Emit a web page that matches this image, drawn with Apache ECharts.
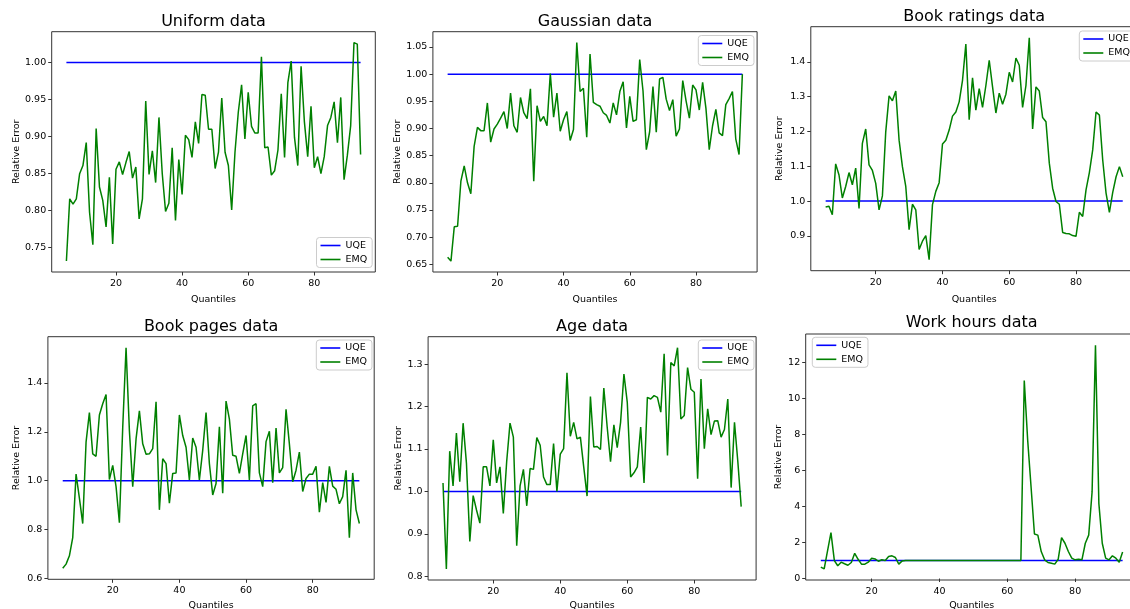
<!DOCTYPE html>
<html><head><meta charset="utf-8">
<script src="https://cdn.jsdelivr.net/npm/echarts@6/dist/echarts.min.js"></script>
<style>html,body{margin:0;padding:0;background:#fff}#c{width:1130px;height:609px}</style>
</head><body><div id="c"></div>
<script>
const quantiles = [5,6,7,8,9,10,11,12,13,14,15,16,17,18,19,20,21,22,23,24,25,26,27,28,29,30,31,32,33,34,35,36,37,38,39,40,41,42,43,44,45,46,47,48,49,50,51,52,53,54,55,56,57,58,59,60,61,62,63,64,65,66,67,68,69,70,71,72,73,74,75,76,77,78,79,80,81,82,83,84,85,86,87,88,89,90,91,92,93,94];
const uqeValue = 1.0;

const uniformEMQ = [0.732,0.816,0.809,0.816,0.850,0.861,0.892,0.798,0.754,0.911,
0.832,0.814,0.778,0.845,0.755,0.856,0.866,0.849,0.865,0.880,
0.844,0.859,0.789,0.816,0.948,0.849,0.881,0.838,0.926,0.850,
0.799,0.810,0.885,0.787,0.869,0.822,0.902,0.896,0.872,0.920,
0.891,0.957,0.956,0.910,0.910,0.857,0.879,0.952,0.879,0.861,
0.801,0.879,0.933,0.970,0.897,0.960,0.914,0.905,0.905,1.008,
0.885,0.886,0.848,0.854,0.882,0.958,0.872,0.973,1.002,0.899,
0.861,0.995,0.920,0.873,0.941,0.858,0.873,0.850,0.873,0.915,
0.926,0.947,0.892,0.953,0.842,0.875,0.915,1.027,1.025,0.876];

const gaussianEMQ = [0.663,0.656,0.719,0.720,0.803,0.831,0.800,0.780,0.867,0.902,
0.896,0.896,0.947,0.875,0.899,0.908,0.919,0.931,0.900,0.965,
0.905,0.893,0.957,0.929,0.918,0.973,0.803,0.942,0.913,0.922,
0.905,1.001,0.921,0.965,0.895,0.916,0.931,0.878,0.898,1.058,
0.968,0.974,0.884,1.037,0.948,0.944,0.941,0.929,0.924,0.910,
0.947,0.925,0.968,0.986,0.901,0.959,0.913,0.916,1.027,0.969,
0.861,0.894,0.977,0.893,0.991,0.994,0.954,0.933,0.953,0.886,
0.899,0.988,0.951,0.919,0.980,0.971,0.934,0.985,0.937,0.861,
0.905,0.935,0.892,0.887,0.944,0.955,0.968,0.881,0.852,1.000];

const ratingsEMQ = [0.983,0.985,0.961,1.107,1.075,1.009,1.042,1.082,1.047,1.095,
0.979,1.166,1.207,1.104,1.088,1.051,0.975,1.015,1.199,1.302,
1.288,1.316,1.175,1.099,1.042,0.918,0.991,0.975,0.861,0.885,
0.901,0.832,0.990,1.028,1.053,1.164,1.175,1.204,1.244,1.256,
1.285,1.347,1.451,1.234,1.354,1.261,1.323,1.269,1.332,1.404,
1.328,1.253,1.310,1.278,1.307,1.370,1.342,1.411,1.390,1.269,
1.332,1.469,1.207,1.328,1.316,1.240,1.228,1.109,1.037,0.999,
0.991,0.910,0.907,0.906,0.901,0.899,0.968,0.956,1.032,1.082,
1.147,1.256,1.247,1.118,1.023,0.968,1.025,1.070,1.099,1.070];

const pagesEMQ = [0.642,0.659,0.693,0.767,1.027,0.929,0.825,1.158,1.279,1.110,
1.100,1.269,1.315,1.353,1.005,1.063,0.976,0.828,1.218,1.544,
1.205,0.976,1.171,1.286,1.151,1.108,1.110,1.131,1.323,0.881,
1.090,1.070,0.908,1.030,1.032,1.269,1.185,1.137,1.003,1.175,
1.137,1.003,1.124,1.279,1.070,0.942,0.989,1.221,0.949,1.326,
1.252,1.104,1.100,1.030,1.110,1.185,1.003,1.306,1.315,1.032,
0.976,1.160,1.202,0.992,1.215,1.032,1.054,1.292,1.151,0.996,
1.043,1.117,0.956,1.009,1.027,1.027,1.059,0.871,0.992,0.911,
1.059,0.978,0.965,0.906,0.935,1.043,0.767,1.032,0.881,0.825];

const ageEMQ = [1.020,0.817,1.095,1.013,1.138,1.023,1.161,1.066,0.882,0.990,
0.956,0.925,1.058,1.058,1.013,1.122,1.020,1.058,0.948,1.070,
1.161,1.128,0.872,1.013,1.052,0.966,1.054,1.052,1.127,1.109,
1.034,1.016,1.016,1.113,1.000,1.088,1.101,1.280,1.130,1.163,
1.124,1.128,1.058,0.989,1.224,1.105,1.106,1.099,1.244,1.152,
1.070,1.157,1.103,1.163,1.277,1.210,1.034,1.044,1.058,1.152,
1.020,1.222,1.218,1.226,1.222,1.187,1.325,1.085,1.304,1.296,
1.339,1.171,1.179,1.292,1.241,1.234,1.030,1.265,1.101,1.195,
1.134,1.166,1.167,1.128,1.146,1.218,1.009,1.163,1.070,0.964];

const hoursEMQ = [0.63,0.54,1.55,2.55,1.00,0.71,0.91,0.82,0.74,0.89,
1.40,1.07,0.80,0.80,0.91,1.13,1.09,0.96,1.04,1.00,
1.22,1.26,1.17,0.80,0.98,1.00,1.00,1.00,1.00,1.00,
1.00,1.00,1.00,1.00,1.00,1.00,1.00,1.00,1.00,1.00,
1.00,1.00,1.00,1.00,1.00,1.00,1.00,1.00,1.00,1.00,
1.00,1.00,1.00,1.00,1.00,1.00,1.00,1.00,1.00,1.00,
11.0,7.7,5.1,2.47,2.41,1.50,1.04,0.89,0.85,0.80,
1.07,2.27,1.96,1.50,1.13,1.04,1.07,1.04,1.96,2.41,
4.81,12.96,4.16,1.96,1.13,1.04,1.26,1.13,0.91,1.47];

const xTicks = [20,40,60,80];
const uniformYTicks = [0.75,0.80,0.85,0.90,0.95,1.00];
const gaussianYTicks = [0.65,0.70,0.75,0.80,0.85,0.90,0.95,1.00,1.05];
const ratingsYTicks = [0.8,0.9,1.0,1.1,1.2,1.3,1.4];
const pagesYTicks = [0.6,0.8,1.0,1.2,1.4];
const ageYTicks = [0.8,0.9,1.0,1.1,1.2,1.3];
const hoursYTicks = [0,2,4,6,8,10,12];

const FONT = 'DejaVu Sans';
const BLUE = '#0000ff', GREEN = '#008000';

const panels = [
  {title:'Uniform data', emq:uniformEMQ, yTicks:uniformYTicks, dec:2,
   grid:{left:51.7, top:31.7, width:323.6, height:240.3}, titleTop:14, legend:{left:316.5, top:237.5}, yNameGap:30, xNameGap:23},
  {title:'Gaussian data', emq:gaussianEMQ, yTicks:gaussianYTicks, dec:2,
   grid:{left:432.9, top:31.7, width:324.2, height:240.3}, titleTop:14, legend:{left:698.3, top:35.5}, yNameGap:30, xNameGap:23},
  {title:'Book ratings data', emq:ratingsEMQ, yTicks:ratingsYTicks, dec:1,
   grid:{left:810.8, top:26.7, width:326.8, height:244}, titleTop:9, legend:{left:1079.3, top:31}, yNameGap:26, xNameGap:24},
  {title:'Book pages data', emq:pagesEMQ, yTicks:pagesYTicks, dec:1,
   grid:{left:47.9, top:336.7, width:326.3, height:242.6}, titleTop:319, legend:{left:316.3, top:340}, yNameGap:26, xNameGap:21},
  {title:'Age data', emq:ageEMQ, yTicks:ageYTicks, dec:1,
   grid:{left:428.1, top:336.7, width:328, height:243.3}, titleTop:319, legend:{left:698.3, top:340}, yNameGap:25, xNameGap:21},
  {title:'Work hours data', emq:hoursEMQ, yTicks:hoursYTicks, dec:0,
   grid:{left:805.7, top:334, width:332, height:246}, titleTop:315, legend:{left:812.3, top:337.3}, yNameGap:22, xNameGap:21}
];

function limits(values) {
  const all = values.concat([uqeValue]);
  const lo = Math.min.apply(null, all), hi = Math.max.apply(null, all);
  const m = (hi - lo) * 0.05;
  return [lo - m, hi + m];
}

const textBase = {fontFamily: FONT, color: '#000'};
const option = {animation:false, backgroundColor:'#fff', title:[], grid:[], xAxis:[], yAxis:[], legend:[], series:[]};

panels.forEach((p, i) => {
  const lim = limits(p.emq);
  option.title.push({text:p.title, left:p.grid.left + p.grid.width/2, top:p.titleTop, textAlign:'center', padding:0,
    textStyle:Object.assign({fontSize:16, fontWeight:'normal'}, textBase)});
  option.grid.push({left:p.grid.left, top:p.grid.top, width:p.grid.width, height:p.grid.height,
    containLabel:false, outerBoundsMode:'none',
    show:true, borderColor:'#333', borderWidth:1, backgroundColor:'transparent'});
  option.xAxis.push({type:'value', gridIndex:i, min:0.55, max:98.45,
    name:'Quantiles', nameLocation:'middle', nameGap:p.xNameGap,
    nameTextStyle:Object.assign({fontSize:9.5}, textBase),
    axisLine:{show:false}, splitLine:{show:false},
    axisTick:{show:true, inside:false, length:3.5, customValues:xTicks, lineStyle:{color:'#333', width:1}},
    axisLabel:Object.assign({customValues:xTicks, margin:6.5, fontSize:9.5, formatter:v => String(v)}, textBase)});
  option.yAxis.push({type:'value', gridIndex:i, min:lim[0], max:lim[1],
    name:'Relative Error', nameLocation:'middle', nameGap:p.yNameGap,
    nameTextStyle:Object.assign({fontSize:9.5}, textBase),
    axisLine:{show:false}, splitLine:{show:false},
    axisTick:{show:true, inside:false, length:3.5, customValues:p.yTicks, lineStyle:{color:'#333', width:1}},
    axisLabel:Object.assign({customValues:p.yTicks, margin:5.5, fontSize:9.5, formatter:v => Number(v).toFixed(p.dec)}, textBase)});
  option.legend.push({data:['UQE','EMQ'], orient:'vertical', left:p.legend.left, top:p.legend.top,
    padding:[3,5,3,4], itemGap:4, itemWidth:20, itemHeight:1.6, icon:'rect', selectedMode:false,
    textStyle:Object.assign({fontSize:9.5, lineHeight:10}, textBase),
    backgroundColor:'rgba(255,255,255,0.8)', borderColor:'#ccc', borderWidth:1, borderRadius:3});
  option.series.push({type:'line', name:'UQE', xAxisIndex:i, yAxisIndex:i, color:BLUE,
    data:quantiles.map(q => [q, uqeValue]), showSymbol:false, symbol:'none',
    lineStyle:{width:1.5, color:BLUE}, itemStyle:{color:BLUE}, z:2});
  option.series.push({type:'line', name:'EMQ', xAxisIndex:i, yAxisIndex:i, color:GREEN,
    data:quantiles.map((q, k) => [q, p.emq[k]]), showSymbol:false, symbol:'none',
    lineStyle:{width:1.5, color:GREEN}, itemStyle:{color:GREEN}, z:3});
});

const chart = echarts.init(document.getElementById('c'), null, {renderer:'canvas'});
chart.setOption(option);
</script>
</body></html>
